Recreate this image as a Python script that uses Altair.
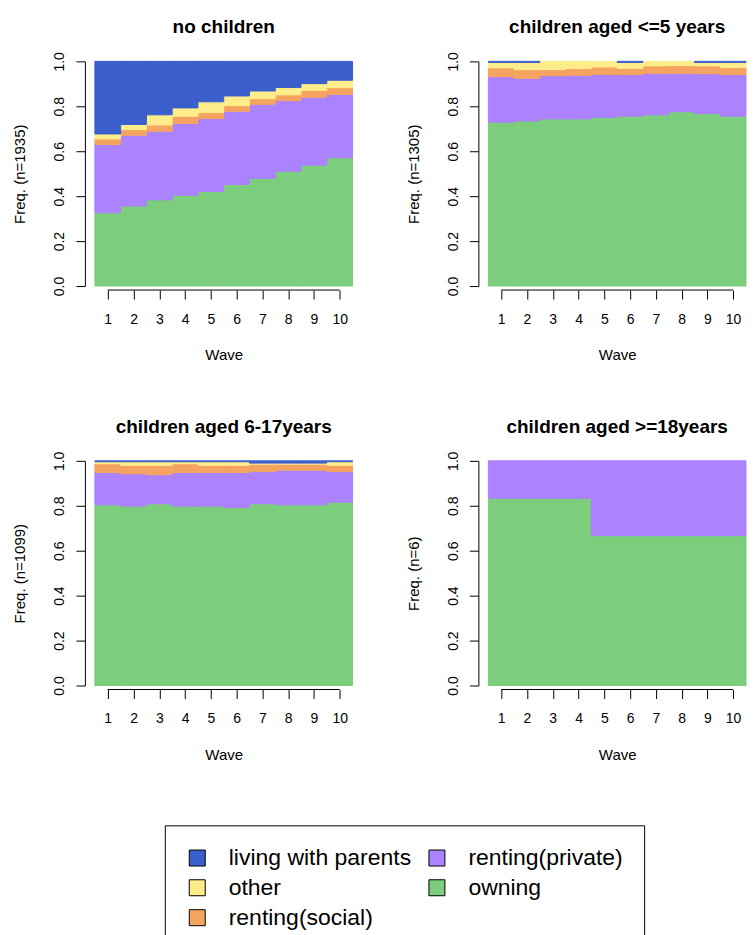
import altair as alt
import pandas as pd

FONT = "Liberation Sans"

waves = [1, 2, 3, 4, 5, 6, 7, 8, 9, 10]
y_ticks = [0.0, 0.2, 0.4, 0.6, 0.8, 1.0]

# stacking order, bottom -> top
states = ["owning", "renting(private)", "renting(social)", "other", "living with parents"]
# legend order (filled column by column in a 2-column grid)
legend_order = ["living with parents", "other", "renting(social)", "renting(private)", "owning"]
legend_colors = ["#3A5FCD", "#FFEC8B", "#F4A460", "#AB82FF", "#7CCD7C"]
state_color = dict(zip(legend_order, legend_colors))

panel_titles = ["no children", "children aged <=5 years",
                "children aged 6-17years", "children aged >=18years"]
n_sizes = [1935, 1305, 1099, 6]

# proportions per wave, one list per state
p1_owning = [0.326, 0.356, 0.384, 0.404, 0.421, 0.452, 0.479, 0.511, 0.538, 0.571]
p1_private = [0.304, 0.315, 0.305, 0.320, 0.324, 0.326, 0.330, 0.314, 0.302, 0.282]
p1_social = [0.025, 0.025, 0.028, 0.032, 0.027, 0.025, 0.025, 0.026, 0.031, 0.030]
p1_other = [0.022, 0.023, 0.045, 0.037, 0.048, 0.043, 0.034, 0.033, 0.030, 0.033]
p1_parents = [0.323, 0.281, 0.238, 0.207, 0.180, 0.154, 0.132, 0.116, 0.099, 0.084]

p2_owning = [0.729, 0.735, 0.744, 0.744, 0.751, 0.756, 0.762, 0.776, 0.768, 0.756]
p2_private = [0.203, 0.189, 0.192, 0.194, 0.191, 0.185, 0.185, 0.171, 0.177, 0.185]
p2_social = [0.039, 0.039, 0.027, 0.030, 0.033, 0.028, 0.033, 0.034, 0.035, 0.032]
p2_other = [0.024, 0.032, 0.037, 0.032, 0.025, 0.026, 0.020, 0.019, 0.015, 0.022]
p2_parents = [0.005, 0.005, 0.0, 0.0, 0.0, 0.005, 0.0, 0.0, 0.005, 0.005]

p3_owning = [0.804, 0.798, 0.809, 0.798, 0.798, 0.792, 0.809, 0.804, 0.804, 0.816]
p3_private = [0.144, 0.144, 0.129, 0.150, 0.150, 0.156, 0.143, 0.154, 0.154, 0.136]
p3_social = [0.039, 0.038, 0.042, 0.039, 0.032, 0.032, 0.033, 0.027, 0.027, 0.028]
p3_other = [0.009, 0.016, 0.016, 0.009, 0.016, 0.016, 0.005, 0.005, 0.005, 0.016]
p3_parents = [0.004, 0.004, 0.004, 0.004, 0.004, 0.004, 0.010, 0.010, 0.010, 0.004]

p4_owning = [0.833, 0.833, 0.833, 0.833, 0.667, 0.667, 0.667, 0.667, 0.667, 0.667]
p4_private = [0.167, 0.167, 0.167, 0.167, 0.333, 0.333, 0.333, 0.333, 0.333, 0.333]
p4_social = [0.0] * 10
p4_other = [0.0] * 10
p4_parents = [0.0] * 10

panel_values = [
    [p1_owning, p1_private, p1_social, p1_other, p1_parents],
    [p2_owning, p2_private, p2_social, p2_other, p2_parents],
    [p3_owning, p3_private, p3_social, p3_other, p3_parents],
    [p4_owning, p4_private, p4_social, p4_other, p4_parents],
]

rows = []
for title, vals in zip(panel_titles, panel_values):
    for k, (state, series) in enumerate(zip(states, vals)):
        for w, v in zip(waves, series):
            if v > 0:
                rows.append({"panel": title, "state": state, "order": k, "wave": w,
                             "prop": v, "edge": state_color[state]})
df = pd.DataFrame(rows)

axis_df = pd.DataFrame({"a": [waves[0]], "b": [waves[-1]]})

W, H = 258, 225

color_scale = alt.Scale(domain=legend_order, range=legend_colors)

color_enc = alt.Color(
    "state:N",
    scale=color_scale,
    legend=alt.Legend(
        orient="none", legendX=70, legendY=765, columns=2, title=None,
        symbolType="square", symbolSize=256, symbolStrokeColor="black",
        symbolStrokeWidth=1, symbolOpacity=1,
        labelFontSize=23, labelFont=FONT, labelColor="black", labelLimit=400,
        labelOffset=20, columnPadding=14, rowPadding=6, padding=21,
        strokeColor="black",
    ),
)

x_axis = alt.Axis(values=waves, format="d", title="Wave",
                  domain=False, offset=4, tickSize=9,
                  labelPadding=13, titlePadding=22,
                  labelAngle=0, labelOverlap=False, labelFlush=False)
x_scale = alt.Scale(domain=[0.5, 10.5], nice=False, zero=False)


def panel(title, n):
    bars = (
        alt.Chart(df)
        .transform_filter(alt.datum.panel == title)
        .transform_stack(stack="prop", groupby=["wave"],
                         sort=[alt.SortField("order", order="ascending")],
                         as_=["y0", "y1"])
        .transform_calculate(x0="datum.wave - 0.5", x1="datum.wave + 0.5")
        .mark_bar(strokeWidth=1)
        .encode(
            x=alt.X("x0:Q", scale=x_scale, axis=x_axis),
            x2="x1:Q",
            y=alt.Y("y0:Q",
                    scale=alt.Scale(domain=[0, 1], nice=False, zero=True),
                    axis=alt.Axis(values=y_ticks, format=".1f",
                                  title=f"Freq. (n={n})", offset=10, tickSize=9,
                                  labelAngle=270, labelAlign="center",
                                  labelBaseline="alphabetic", labelPadding=12,
                                  labelOverlap=False, titlePadding=25)),
            y2="y1:Q",
            color=color_enc,
            stroke=alt.Stroke("edge:N", scale=None),
        )
    )
    axis_line = (
        alt.Chart(axis_df)
        .mark_rule(color="black", strokeWidth=1)
        .encode(x=alt.X("a:Q", scale=x_scale, axis=x_axis), x2="b:Q",
                y=alt.value(H + 4))
    )
    return alt.layer(bars, axis_line).properties(
        width=W, height=H,
        title=alt.TitleParams(title, fontSize=19, font=FONT, fontWeight="bold",
                              color="black", offset=14.2, anchor="middle"),
    )


p = [panel(t, n) for t, n in zip(panel_titles, n_sizes)]

chart = (
    alt.vconcat(
        alt.hconcat(p[0], p[1], spacing=53),
        alt.hconcat(p[2], p[3], spacing=53),
        spacing=55,
    )
    .properties(padding={"left": 5, "top": 9.8, "right": 0, "bottom": 0})
    .configure_view(stroke=None)
    .configure_axis(
        labelFont=FONT, titleFont=FONT, labelFontSize=14, titleFontSize=15,
        labelColor="black", titleColor="black", domainColor="black",
        tickColor="black", grid=False, titleFontWeight="normal",
    )
)

chart.save("out.html", embed_options={"renderer": "svg", "actions": False})
